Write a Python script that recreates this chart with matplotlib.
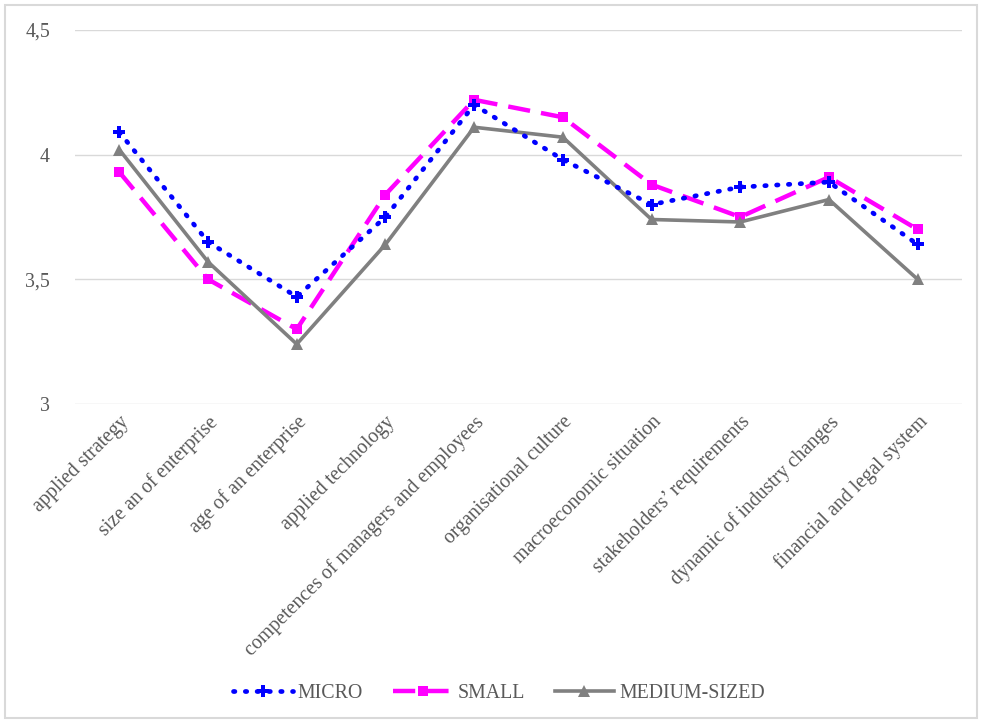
import matplotlib
matplotlib.use("Agg")
import matplotlib.pyplot as plt
from matplotlib.patches import Rectangle

categories = ["applied strategy", "size an of enterprise", "age of an enterprise",
              "applied technology", "competences of managers and employees",
              "organisational culture", "macroeconomic situation",
              "stakeholders’ requirements", "dynamic of industry changes",
              "financial and legal system"]
micro = [4.09, 3.65, 3.43, 3.75, 4.20, 3.98, 3.80, 3.87, 3.89, 3.64]
small = [3.93, 3.50, 3.30, 3.84, 4.22, 4.15, 3.88, 3.75, 3.91, 3.70]
medium = [4.02, 3.57, 3.24, 3.64, 4.11, 4.07, 3.74, 3.73, 3.82, 3.50]
yticks = [3, 3.5, 4, 4.5]
ytick_labels = ["3", "3,5", "4", "4,5"]

plt.rcParams['font.family'] = ['Liberation Serif', 'DejaVu Serif']
W, H = 982, 723
fig = plt.figure(figsize=(W/100, H/100), dpi=100)
ax = fig.add_axes([75/W, 1-404/H, (962-75)/W, (404-30)/H])

x = list(range(len(categories)))
ax.plot(x, micro, color='#0000FF', linestyle=(0, (0.3, 2.2)), linewidth=3.4,
        marker='P', markersize=8, markeredgewidth=0, label='MICRO', zorder=3,
        dash_capstyle='round')
ax.plot(x, small, color='#FF00FF', linestyle=(0, (5, 2.5)), linewidth=3.2,
        marker='s', markersize=7, markeredgewidth=0, label='SMALL', zorder=2)
ax.plot(x, medium, color='#808080', linestyle='-', linewidth=2.6,
        marker='^', markersize=8, markeredgewidth=0, label='MEDIUM-SIZED', zorder=2)

ax.set_xlim(-0.5, len(categories) - 0.5)
ax.set_ylim(3, 4.5)
ax.set_yticks(yticks)
ax.set_yticklabels(ytick_labels)
ax.set_xticks(x)
ax.set_xticklabels(categories, rotation=45, ha='right', rotation_mode='anchor')
ax.tick_params(axis='both', length=0, colors='#595959', labelsize=14.3)
ax.tick_params(axis='y', pad=18)
ax.tick_params(axis='x', pad=6)
ax.grid(axis='y', color='#D9D9D9', linewidth=1)
ax.set_axisbelow(True)
for s in ax.spines.values():
    s.set_visible(False)

leg = fig.legend(loc='center', bbox_to_anchor=(499/W, 1-693/H), ncol=3, frameon=False,
                 fontsize=14.3, handlelength=3.0, columnspacing=1.5, handletextpad=0.25)
for t in leg.get_texts():
    t.set_color('#595959')

fig.patches.append(Rectangle((5/W, 5/H), 1-10/W, 1-10/H, transform=fig.transFigure,
                             fill=False, edgecolor='#D9D9D9', linewidth=1.5))

fig.savefig('out.png', dpi=100, facecolor='white')
